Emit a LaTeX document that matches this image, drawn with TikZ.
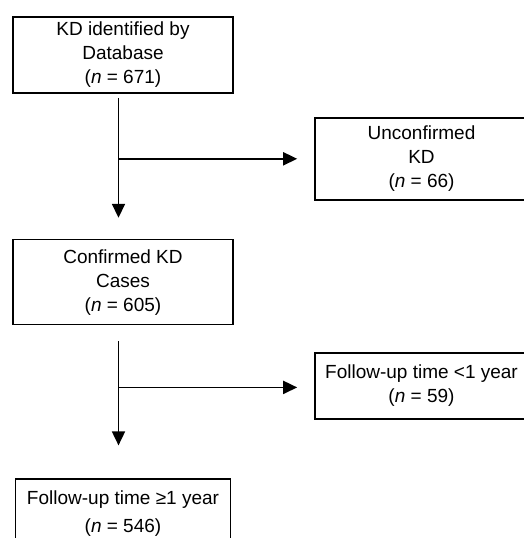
\documentclass[tikz,border=0pt]{standalone}
\usepackage{fontspec}
\setmainfont{Liberation Sans}
\usepackage{tikz}
\usetikzlibrary{arrows.meta, positioning}

\begin{document}
\begin{tikzpicture}[
        x=1pt, y=-1pt,
        box/.style={draw, line width=1.6pt, align=center, font=\fontsize{19}{24}\selectfont, inner sep=0pt},
        flow/.style={line width=1.8pt, -{Triangle[length=14pt, width=13pt]}}
    ]
    \path[use as bounding box] (0,0) rectangle (524,538);
    \clip (0,0) rectangle (524,538);

    \node[box, minimum width=220pt, minimum height=76pt] (database) at (123,55) {KD identified by\\Database\\(\textit{n} = 671)};
    \node[box, minimum width=220pt, minimum height=85pt, below=145pt of database] (confirmed) {Confirmed KD\\Cases\\(\textit{n} = 605)};
    \node[box, minimum width=215pt, minimum height=68pt, below=153pt of confirmed] (longfollow) {Follow-up time ≥1 year\\[4pt](\textit{n} = 546)};

    \node[box, minimum width=213pt, minimum height=82pt] (unconfirmed) at (421.5,159) {Unconfirmed\\KD\\(\textit{n} = 66)};
    \node[box, minimum width=213pt, minimum height=66pt] (shortfollow) at (421.5,386) {Follow-up time <1 year\\(\textit{n} = 59)};

    % Tronco principal com ramos laterais
    \draw[flow, shorten <=4pt, shorten >=21pt] ([xshift=-4.5pt]database.south) -- ([xshift=-4.5pt]confirmed.north);
    \coordinate (split1) at ([xshift=-4.5pt, yshift=-65pt]database.south);
    \draw[flow, shorten >=17pt] (split1) -- (split1 -| unconfirmed.west);

    \draw[flow, shorten <=16pt, shorten >=33pt] ([xshift=-4.5pt]confirmed.south) -- ([xshift=-4.5pt]longfollow.north);
    \coordinate (split2) at ([xshift=-4.5pt, yshift=-62pt]confirmed.south);
    \draw[flow, shorten >=17pt] (split2) -- (split2 -| shortfollow.west);
\end{tikzpicture}
\end{document}
